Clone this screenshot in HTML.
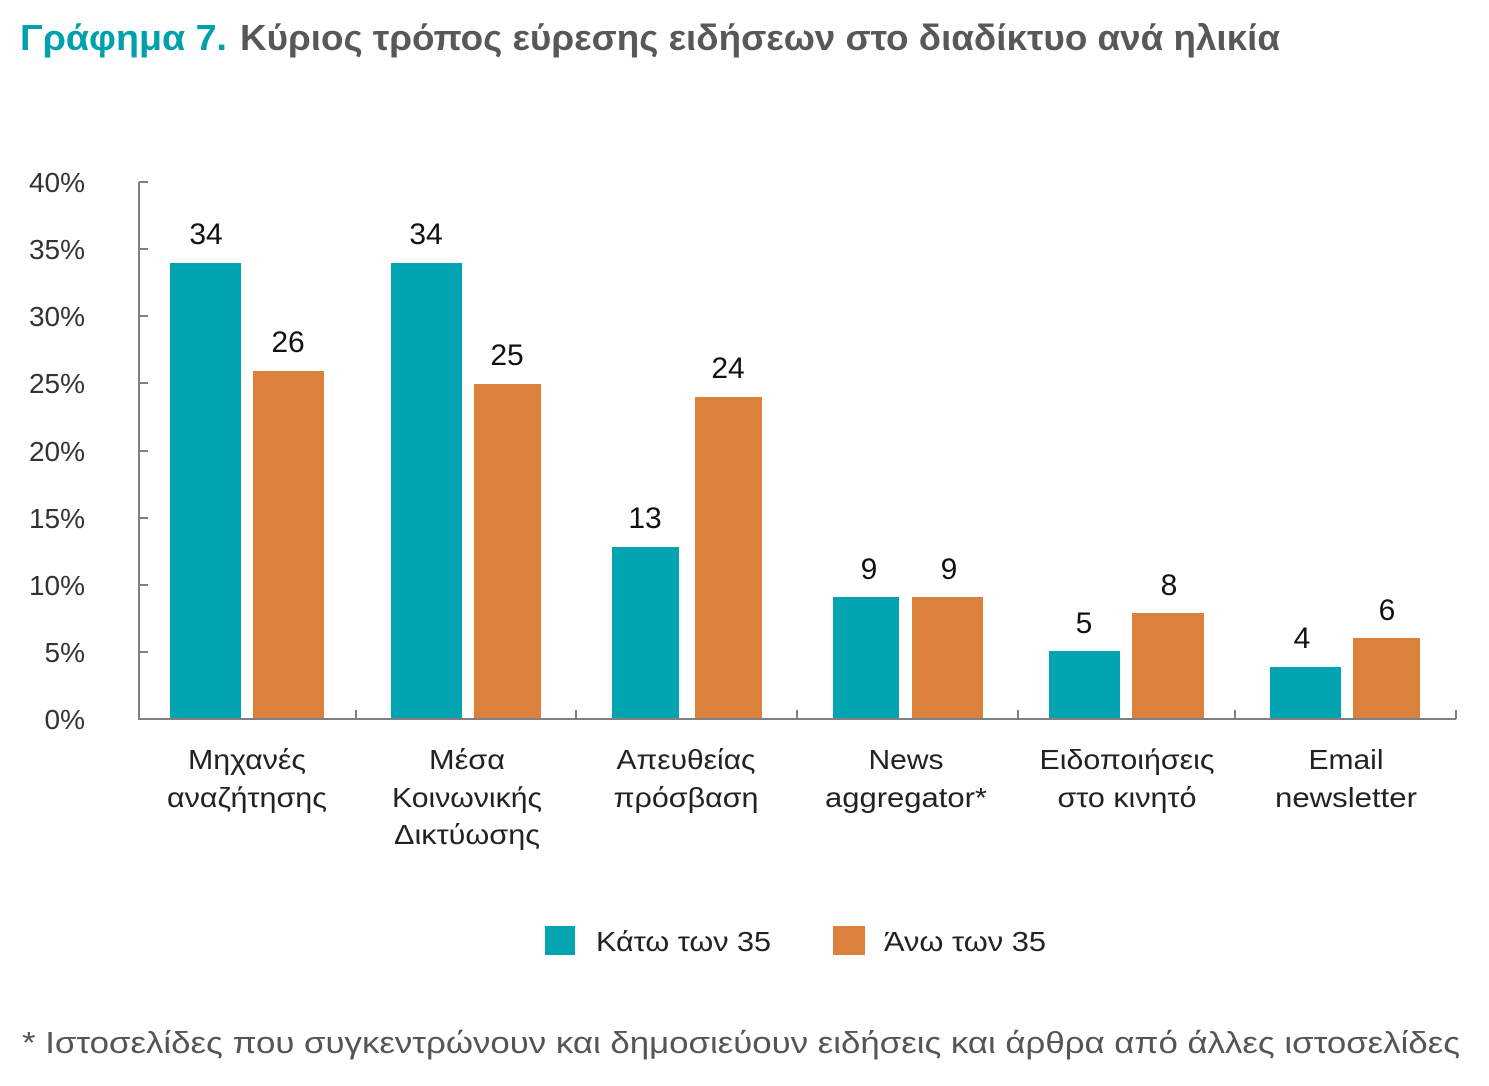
<!DOCTYPE html>
<html>
<head>
<meta charset="utf-8">
<style>
html,body{margin:0;padding:0;background:#fff;}
svg{display:block;}
text{font-family:"Liberation Sans","DejaVu Sans",sans-serif;}
</style>
</head>
<body>
<svg width="1489" height="1086" viewBox="0 0 1489 1086" xmlns="http://www.w3.org/2000/svg">
<rect width="1489" height="1086" fill="#fff"/>
<!-- Title -->
<text x="20" y="50" font-size="36" font-weight="bold" fill="#01A0AD" textLength="207" lengthAdjust="spacingAndGlyphs">Γράφημα 7.</text>
<text x="240" y="50" font-size="36" font-weight="bold" fill="#58585A" textLength="1040" lengthAdjust="spacingAndGlyphs">Κύριος τρόπος εύρεσης ειδήσεων στο διαδίκτυο ανά ηλικία</text>

<!-- Y axis labels -->
<g font-size="28" fill="#333" text-anchor="end">
<text x="85" y="192">40%</text>
<text x="85" y="259">35%</text>
<text x="85" y="326">30%</text>
<text x="85" y="393">25%</text>
<text x="85" y="461">20%</text>
<text x="85" y="528">15%</text>
<text x="85" y="595">10%</text>
<text x="85" y="662">5%</text>
<text x="85" y="729">0%</text>
</g>

<!-- Axes -->
<g stroke="#808080" stroke-width="2" fill="none">
<line x1="139" y1="182" x2="139" y2="720"/>
<line x1="138" y1="719" x2="1456" y2="719"/>
<line x1="139" y1="182" x2="148" y2="182"/>
<line x1="139" y1="249" x2="148" y2="249"/>
<line x1="139" y1="316" x2="148" y2="316"/>
<line x1="139" y1="383" x2="148" y2="383"/>
<line x1="139" y1="451" x2="148" y2="451"/>
<line x1="139" y1="518" x2="148" y2="518"/>
<line x1="139" y1="585" x2="148" y2="585"/>
<line x1="139" y1="652" x2="148" y2="652"/>
<line x1="356" y1="710" x2="356" y2="719"/>
<line x1="576" y1="710" x2="576" y2="719"/>
<line x1="797" y1="710" x2="797" y2="719"/>
<line x1="1018" y1="710" x2="1018" y2="719"/>
<line x1="1235" y1="710" x2="1235" y2="719"/>
<line x1="1456" y1="710" x2="1456" y2="719"/>
</g>

<!-- Bars -->
<g fill="#01A4B0">
<rect x="170" y="263" width="71" height="455"/>
<rect x="391" y="263" width="71" height="455"/>
<rect x="612" y="547" width="67" height="171"/>
<rect x="833" y="597" width="66" height="121"/>
<rect x="1049" y="651" width="71" height="67"/>
<rect x="1270" y="667" width="71" height="51"/>
</g>
<g fill="#DC813C">
<rect x="253" y="371" width="71" height="347"/>
<rect x="474" y="384" width="67" height="334"/>
<rect x="695" y="397" width="67" height="321"/>
<rect x="912" y="597" width="71" height="121"/>
<rect x="1132" y="613" width="72" height="105"/>
<rect x="1353" y="638" width="67" height="80"/>
</g>

<!-- Value labels -->
<g font-size="30" fill="#111" text-anchor="middle">
<text x="206" y="244">34</text>
<text x="288" y="352">26</text>
<text x="426" y="244">34</text>
<text x="507" y="365">25</text>
<text x="645" y="528">13</text>
<text x="728" y="378">24</text>
<text x="869" y="579">9</text>
<text x="949" y="579">9</text>
<text x="1084" y="633">5</text>
<text x="1169" y="595">8</text>
<text x="1302" y="648">4</text>
<text x="1387" y="620">6</text>
</g>

<!-- Category labels -->
<g font-size="28" fill="#222" text-anchor="middle">
<text x="247" y="769" textLength="118" lengthAdjust="spacingAndGlyphs">Μηχανές</text>
<text x="247" y="807" textLength="160" lengthAdjust="spacingAndGlyphs">αναζήτησης</text>
<text x="467" y="769" textLength="76" lengthAdjust="spacingAndGlyphs">Μέσα</text>
<text x="467" y="807" textLength="150" lengthAdjust="spacingAndGlyphs">Κοινωνικής</text>
<text x="467" y="844" textLength="146" lengthAdjust="spacingAndGlyphs">Δικτύωσης</text>
<text x="686" y="769" textLength="139" lengthAdjust="spacingAndGlyphs">Απευθείας</text>
<text x="686" y="807" textLength="145" lengthAdjust="spacingAndGlyphs">πρόσβαση</text>
<text x="906" y="769" textLength="75" lengthAdjust="spacingAndGlyphs">News</text>
<text x="906" y="807" textLength="162" lengthAdjust="spacingAndGlyphs">aggregator*</text>
<text x="1127" y="769" textLength="175" lengthAdjust="spacingAndGlyphs">Ειδοποιήσεις</text>
<text x="1127" y="807" textLength="139" lengthAdjust="spacingAndGlyphs">στο κινητό</text>
<text x="1346" y="769" textLength="75" lengthAdjust="spacingAndGlyphs">Email</text>
<text x="1346" y="807" textLength="142" lengthAdjust="spacingAndGlyphs">newsletter</text>
</g>

<!-- Legend -->
<rect x="545" y="926" width="30" height="29" fill="#01A4B0"/>
<text x="596" y="951" font-size="28" fill="#222" textLength="175" lengthAdjust="spacingAndGlyphs">Κάτω των 35</text>
<rect x="833" y="926" width="32" height="29" fill="#DC813C"/>
<text x="884" y="951" font-size="28" fill="#222" textLength="162" lengthAdjust="spacingAndGlyphs">Άνω των 35</text>

<!-- Footnote -->
<text x="22" y="1053" font-size="31" fill="#555" textLength="1438" lengthAdjust="spacingAndGlyphs">* Ιστοσελίδες που συγκεντρώνουν και δημοσιεύουν ειδήσεις και άρθρα από άλλες ιστοσελίδες</text>
</svg>
</body>
</html>
